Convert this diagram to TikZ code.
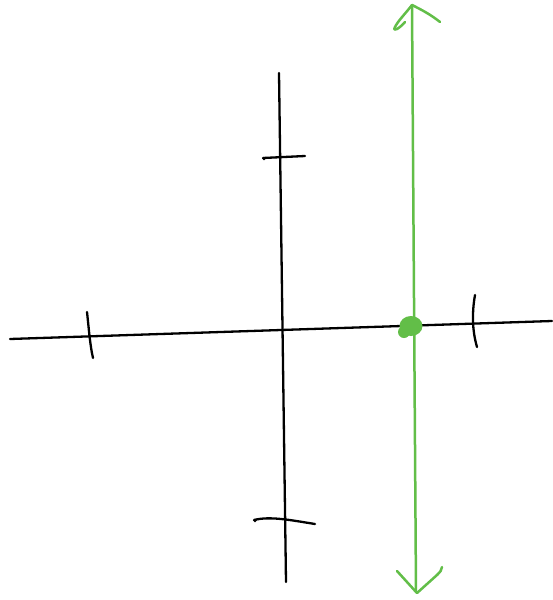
\documentclass[tikz,border=0pt]{standalone}
\begin{document}
\begin{tikzpicture}[x=1pt,y=-1pt,
  ink/.style={draw=black,line width=2.3pt,line cap=round,line join=round},
  gink/.style={draw=sketchgreen,line width=2.5pt,line cap=round,line join=round}]
\definecolor{sketchgreen}{RGB}{98,190,72}
\useasboundingbox[fill=white] (0,0) rectangle (552,600);
% axes
\coordinate (xl) at (10,339);
\coordinate (xr) at (552,321);
\coordinate (yt) at (279,73);
\coordinate (yb) at (286,582);
\draw[ink] (xl) -- (xr);
\draw[ink] (yt) -- (yb);
% ticks
\draw[ink] (263,158) -- (305,156);
\fill (264,158.5) circle (1.9pt);
\draw[ink] (254,520) .. controls (270,516) and (290,520) .. (315,524);
\fill (255,520.5) circle (1.8pt);
\draw[ink] (87,312) .. controls (89,330) and (90,345) .. (93,358);
\draw[ink] (475,295) .. controls (472,312) and (472,330) .. (477,347);
% green line with arrowheads
\coordinate (gt) at (412,5);
\coordinate (gb) at (416,592);
\draw[gink] (gt) -- (gb);
\draw[gink] (gt) .. controls (405,14) and (398,21) .. (395,27)
  .. controls (392,33) and (400,28) .. (405,22);
\draw[gink] (gt) .. controls (420,9) and (430,14) .. (440,22);
\draw[gink] (397,571) -- (417,593) -- (437,575) .. controls (440,572) and (442,570) .. (442,567);
% green dot
\fill[sketchgreen] (411,326) ellipse (11.5pt and 10pt);
\fill[sketchgreen] (404,332) circle (6pt);
\end{tikzpicture}
\end{document}
